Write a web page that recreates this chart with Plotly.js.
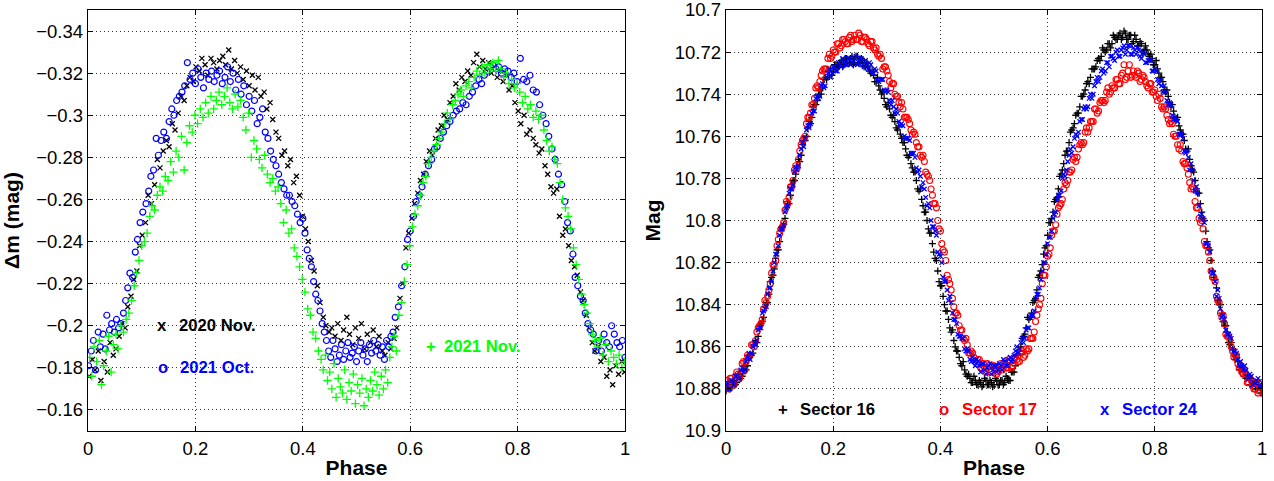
<!DOCTYPE html>
<html>
<head>
<meta charset="utf-8">
<script src="https://cdn.plot.ly/plotly-3.0.1.min.js"></script>
<style>html,body{margin:0;padding:0;background:#fff;}#chart{width:1274px;height:481px;}</style>
</head>
<body>
<div id="chart"></div>
<script>
// ---------- Left panel: ground-based differential photometry ----------
const NOV2020_PHASE = [0.002,0.008,0.013,0.019,0.024,0.030,0.036,0.041,0.047,0.052,0.058,0.063,0.069,0.074,0.080,0.085,0.091,0.096,0.101,0.107,0.112,0.118,0.124,0.129,0.134,0.140,0.146,0.151,0.157,0.162,0.168,0.173,0.179,0.184,0.190,0.196,0.201,0.207,0.212,0.218,0.223,0.229,0.234,0.240,0.245,0.251,0.256,0.262,0.267,0.273,0.278,0.284,0.289,0.295,0.300,0.306,0.311,0.317,0.322,0.328,0.333,0.339,0.344,0.350,0.355,0.361,0.366,0.372,0.377,0.383,0.388,0.394,0.399,0.405,0.410,0.416,0.421,0.427,0.432,0.438,0.443,0.449,0.454,0.460,0.465,0.471,0.476,0.482,0.487,0.493,0.498,0.504,0.509,0.515,0.520,0.526,0.531,0.537,0.542,0.548,0.553,0.559,0.564,0.570,0.575,0.581,0.586,0.592,0.597,0.603,0.608,0.614,0.619,0.625,0.630,0.636,0.641,0.647,0.652,0.658,0.663,0.669,0.674,0.680,0.685,0.691,0.696,0.702,0.707,0.713,0.718,0.724,0.729,0.735,0.740,0.746,0.751,0.757,0.762,0.768,0.773,0.779,0.784,0.790,0.795,0.801,0.806,0.812,0.817,0.823,0.829,0.834,0.840,0.845,0.851,0.856,0.862,0.867,0.873,0.878,0.884,0.889,0.895,0.900,0.906,0.911,0.917,0.922,0.928,0.933,0.939,0.944,0.950,0.955,0.961,0.966,0.972,0.977,0.983,0.988,0.994,0.999];
const NOV2020_DM = [-0.176,-0.184,-0.179,-0.188,-0.174,-0.183,-0.178,-0.192,-0.186,-0.189,-0.195,-0.201,-0.199,-0.209,-0.214,-0.222,-0.226,-0.238,-0.243,-0.249,-0.262,-0.258,-0.267,-0.279,-0.275,-0.283,-0.288,-0.285,-0.296,-0.293,-0.301,-0.309,-0.307,-0.314,-0.318,-0.316,-0.323,-0.321,-0.327,-0.324,-0.319,-0.327,-0.325,-0.322,-0.326,-0.328,-0.324,-0.331,-0.322,-0.326,-0.320,-0.323,-0.317,-0.321,-0.314,-0.319,-0.312,-0.318,-0.309,-0.311,-0.303,-0.306,-0.298,-0.292,-0.289,-0.281,-0.283,-0.276,-0.279,-0.268,-0.271,-0.262,-0.252,-0.246,-0.240,-0.231,-0.226,-0.219,-0.211,-0.204,-0.200,-0.197,-0.199,-0.195,-0.201,-0.193,-0.198,-0.204,-0.196,-0.191,-0.199,-0.194,-0.201,-0.189,-0.196,-0.192,-0.198,-0.190,-0.195,-0.188,-0.186,-0.192,-0.189,-0.194,-0.199,-0.213,-0.220,-0.237,-0.244,-0.251,-0.258,-0.263,-0.269,-0.272,-0.278,-0.283,-0.281,-0.289,-0.293,-0.295,-0.300,-0.298,-0.306,-0.309,-0.315,-0.312,-0.318,-0.316,-0.321,-0.319,-0.325,-0.329,-0.323,-0.326,-0.322,-0.325,-0.320,-0.323,-0.318,-0.321,-0.316,-0.319,-0.312,-0.314,-0.306,-0.302,-0.296,-0.300,-0.291,-0.293,-0.289,-0.286,-0.282,-0.284,-0.276,-0.272,-0.266,-0.263,-0.265,-0.252,-0.243,-0.246,-0.238,-0.231,-0.228,-0.224,-0.216,-0.212,-0.205,-0.199,-0.192,-0.188,-0.190,-0.183,-0.185,-0.176,-0.179,-0.172,-0.181,-0.177,-0.183,-0.178];

const OCT2021_PHASE = [0.001,0.006,0.010,0.014,0.019,0.023,0.028,0.032,0.035,0.040,0.044,0.049,0.053,0.057,0.061,0.066,0.070,0.074,0.078,0.083,0.088,0.092,0.097,0.102,0.108,0.113,0.117,0.122,0.127,0.131,0.136,0.141,0.146,0.151,0.156,0.160,0.165,0.170,0.175,0.180,0.185,0.190,0.195,0.200,0.205,0.210,0.215,0.220,0.225,0.230,0.235,0.240,0.245,0.250,0.255,0.260,0.265,0.270,0.275,0.280,0.285,0.290,0.295,0.300,0.305,0.310,0.315,0.320,0.325,0.330,0.335,0.340,0.345,0.350,0.355,0.360,0.365,0.370,0.375,0.380,0.385,0.390,0.395,0.400,0.404,0.408,0.412,0.416,0.420,0.424,0.428,0.432,0.436,0.440,0.444,0.448,0.452,0.456,0.460,0.464,0.468,0.472,0.476,0.480,0.484,0.488,0.492,0.496,0.500,0.504,0.508,0.512,0.516,0.520,0.524,0.528,0.532,0.536,0.540,0.544,0.548,0.552,0.556,0.560,0.564,0.568,0.572,0.578,0.584,0.590,0.595,0.600,0.606,0.611,0.617,0.622,0.628,0.634,0.640,0.645,0.650,0.656,0.662,0.668,0.674,0.680,0.686,0.692,0.698,0.704,0.710,0.716,0.722,0.728,0.733,0.738,0.744,0.749,0.754,0.760,0.765,0.770,0.776,0.782,0.788,0.793,0.799,0.805,0.811,0.817,0.823,0.829,0.835,0.841,0.847,0.853,0.858,0.864,0.870,0.876,0.882,0.888,0.893,0.898,0.903,0.907,0.912,0.917,0.922,0.926,0.931,0.936,0.941,0.946,0.951,0.956,0.961,0.966,0.971,0.975,0.980,0.985,0.990,0.995,1.000];
const OCT2021_DM = [-0.181,-0.188,-0.193,-0.179,-0.197,-0.190,-0.196,-0.189,-0.205,-0.198,-0.201,-0.197,-0.203,-0.199,-0.201,-0.206,-0.212,-0.218,-0.225,-0.223,-0.235,-0.241,-0.249,-0.254,-0.258,-0.264,-0.271,-0.274,-0.289,-0.281,-0.288,-0.292,-0.289,-0.297,-0.303,-0.300,-0.307,-0.309,-0.311,-0.314,-0.325,-0.317,-0.320,-0.315,-0.322,-0.318,-0.313,-0.320,-0.317,-0.321,-0.316,-0.319,-0.321,-0.315,-0.318,-0.323,-0.316,-0.320,-0.312,-0.317,-0.310,-0.314,-0.305,-0.309,-0.302,-0.307,-0.296,-0.299,-0.303,-0.292,-0.289,-0.283,-0.279,-0.276,-0.272,-0.268,-0.265,-0.262,-0.262,-0.259,-0.257,-0.253,-0.249,-0.251,-0.244,-0.236,-0.232,-0.228,-0.221,-0.215,-0.212,-0.207,-0.201,-0.197,-0.193,-0.188,-0.185,-0.193,-0.189,-0.183,-0.186,-0.191,-0.184,-0.188,-0.192,-0.185,-0.187,-0.190,-0.183,-0.188,-0.192,-0.186,-0.189,-0.183,-0.191,-0.187,-0.193,-0.188,-0.191,-0.186,-0.190,-0.184,-0.193,-0.190,-0.195,-0.197,-0.204,-0.209,-0.219,-0.228,-0.241,-0.245,-0.252,-0.259,-0.262,-0.266,-0.272,-0.276,-0.279,-0.284,-0.285,-0.289,-0.292,-0.295,-0.297,-0.300,-0.302,-0.303,-0.306,-0.305,-0.309,-0.311,-0.314,-0.317,-0.315,-0.319,-0.321,-0.323,-0.324,-0.322,-0.323,-0.320,-0.322,-0.321,-0.318,-0.320,-0.316,-0.327,-0.317,-0.316,-0.319,-0.312,-0.311,-0.305,-0.300,-0.296,-0.290,-0.284,-0.279,-0.272,-0.267,-0.259,-0.249,-0.245,-0.234,-0.223,-0.219,-0.214,-0.212,-0.206,-0.201,-0.198,-0.196,-0.188,-0.193,-0.188,-0.196,-0.192,-0.190,-0.200,-0.196,-0.192,-0.190,-0.193,-0.185];

const NOV2021_PHASE = [0.003,0.007,0.011,0.016,0.021,0.025,0.029,0.034,0.038,0.043,0.047,0.052,0.056,0.061,0.066,0.071,0.076,0.081,0.086,0.090,0.095,0.100,0.105,0.110,0.115,0.119,0.124,0.129,0.134,0.139,0.144,0.149,0.154,0.159,0.164,0.169,0.174,0.179,0.184,0.189,0.194,0.199,0.204,0.209,0.214,0.219,0.224,0.229,0.234,0.239,0.244,0.249,0.254,0.259,0.264,0.269,0.274,0.279,0.284,0.289,0.294,0.299,0.304,0.309,0.314,0.319,0.324,0.329,0.334,0.339,0.344,0.349,0.354,0.359,0.364,0.369,0.374,0.379,0.384,0.389,0.394,0.399,0.404,0.409,0.414,0.419,0.424,0.429,0.434,0.438,0.442,0.446,0.450,0.454,0.458,0.462,0.466,0.470,0.474,0.478,0.482,0.486,0.490,0.494,0.498,0.502,0.506,0.510,0.514,0.518,0.522,0.526,0.530,0.534,0.538,0.542,0.546,0.550,0.554,0.558,0.562,0.566,0.570,0.574,0.579,0.584,0.589,0.594,0.599,0.604,0.609,0.614,0.619,0.624,0.629,0.634,0.639,0.644,0.649,0.654,0.659,0.664,0.669,0.674,0.679,0.684,0.689,0.694,0.699,0.704,0.709,0.714,0.719,0.724,0.729,0.734,0.739,0.744,0.749,0.754,0.759,0.764,0.769,0.774,0.779,0.784,0.789,0.794,0.799,0.804,0.809,0.814,0.819,0.824,0.829,0.834,0.839,0.844,0.849,0.854,0.859,0.864,0.869,0.874,0.879,0.884,0.889,0.894,0.899,0.904,0.909,0.914,0.919,0.924,0.929,0.934,0.939,0.944,0.949,0.954,0.959,0.964,0.969,0.974,0.979,0.984,0.989,0.994,0.999];
const NOV2021_DM = [-0.185,-0.176,-0.190,-0.183,-0.193,-0.172,-0.181,-0.188,-0.195,-0.178,-0.191,-0.196,-0.189,-0.200,-0.197,-0.203,-0.206,-0.212,-0.219,-0.225,-0.231,-0.238,-0.240,-0.244,-0.252,-0.257,-0.255,-0.262,-0.266,-0.264,-0.271,-0.269,-0.278,-0.273,-0.283,-0.280,-0.290,-0.274,-0.287,-0.295,-0.292,-0.300,-0.296,-0.303,-0.299,-0.306,-0.301,-0.309,-0.303,-0.307,-0.311,-0.305,-0.309,-0.313,-0.306,-0.303,-0.310,-0.304,-0.307,-0.299,-0.293,-0.301,-0.280,-0.288,-0.284,-0.279,-0.275,-0.281,-0.272,-0.268,-0.270,-0.264,-0.266,-0.258,-0.249,-0.255,-0.244,-0.246,-0.237,-0.233,-0.228,-0.222,-0.216,-0.208,-0.205,-0.197,-0.194,-0.188,-0.184,-0.179,-0.186,-0.174,-0.178,-0.170,-0.182,-0.166,-0.175,-0.171,-0.168,-0.179,-0.165,-0.173,-0.169,-0.177,-0.163,-0.172,-0.168,-0.175,-0.162,-0.170,-0.166,-0.174,-0.169,-0.178,-0.172,-0.167,-0.176,-0.170,-0.179,-0.173,-0.185,-0.190,-0.195,-0.188,-0.205,-0.211,-0.221,-0.229,-0.238,-0.247,-0.253,-0.257,-0.262,-0.268,-0.271,-0.277,-0.280,-0.283,-0.286,-0.289,-0.292,-0.296,-0.301,-0.298,-0.305,-0.307,-0.310,-0.312,-0.309,-0.314,-0.316,-0.313,-0.318,-0.321,-0.319,-0.323,-0.320,-0.324,-0.322,-0.325,-0.321,-0.326,-0.322,-0.318,-0.320,-0.315,-0.317,-0.313,-0.315,-0.311,-0.306,-0.309,-0.303,-0.305,-0.299,-0.302,-0.298,-0.300,-0.293,-0.288,-0.283,-0.285,-0.279,-0.277,-0.268,-0.260,-0.256,-0.252,-0.246,-0.237,-0.229,-0.222,-0.215,-0.210,-0.206,-0.201,-0.196,-0.193,-0.190,-0.194,-0.186,-0.191,-0.183,-0.188,-0.185,-0.182,-0.186,-0.180,-0.183];

// ---------- Right panel: TESS sectors (two interleaved phase grids) ----------
const TESS_PHASE = [0.000,0.005,0.010,0.015,0.020,0.025,0.030,0.035,0.040,0.045,0.050,0.055,0.060,0.065,0.070,0.075,0.080,0.085,0.090,0.095,0.100,0.105,0.110,0.115,0.120,0.125,0.130,0.135,0.140,0.145,0.150,0.155,0.160,0.165,0.170,0.175,0.180,0.185,0.190,0.195,0.200,0.205,0.210,0.215,0.220,0.225,0.230,0.235,0.240,0.245,0.250,0.255,0.260,0.265,0.270,0.275,0.280,0.285,0.290,0.295,0.300,0.305,0.310,0.315,0.320,0.325,0.330,0.335,0.340,0.345,0.350,0.355,0.360,0.365,0.370,0.375,0.380,0.385,0.390,0.395,0.400,0.405,0.410,0.415,0.420,0.425,0.430,0.435,0.440,0.445,0.450,0.455,0.460,0.465,0.470,0.475,0.480,0.485,0.490,0.495,0.500,0.505,0.510,0.515,0.520,0.525,0.530,0.535,0.540,0.545,0.550,0.555,0.560,0.565,0.570,0.575,0.580,0.585,0.590,0.595,0.600,0.605,0.610,0.615,0.620,0.625,0.630,0.635,0.640,0.645,0.650,0.655,0.660,0.665,0.670,0.675,0.680,0.685,0.690,0.695,0.700,0.705,0.710,0.715,0.720,0.725,0.730,0.735,0.740,0.745,0.750,0.755,0.760,0.765,0.770,0.775,0.780,0.785,0.790,0.795,0.800,0.805,0.810,0.815,0.820,0.825,0.830,0.835,0.840,0.845,0.850,0.855,0.860,0.865,0.870,0.875,0.880,0.885,0.890,0.895,0.900,0.905,0.910,0.915,0.920,0.925,0.930,0.935,0.940,0.945,0.950,0.955,0.960,0.965,0.970,0.975,0.980,0.985,0.990,0.995,1.000];
const TESS_PHASE_B = [0.0025,0.0075,0.0125,0.0175,0.0225,0.0275,0.0325,0.0375,0.0425,0.0475,0.0525,0.0575,0.0625,0.0675,0.0725,0.0775,0.0825,0.0875,0.0925,0.0975,0.1025,0.1075,0.1125,0.1175,0.1225,0.1275,0.1325,0.1375,0.1425,0.1475,0.1525,0.1575,0.1625,0.1675,0.1725,0.1775,0.1825,0.1875,0.1925,0.1975,0.2025,0.2075,0.2125,0.2175,0.2225,0.2275,0.2325,0.2375,0.2425,0.2475,0.2525,0.2575,0.2625,0.2675,0.2725,0.2775,0.2825,0.2875,0.2925,0.2975,0.3025,0.3075,0.3125,0.3175,0.3225,0.3275,0.3325,0.3375,0.3425,0.3475,0.3525,0.3575,0.3625,0.3675,0.3725,0.3775,0.3825,0.3875,0.3925,0.3975,0.4025,0.4075,0.4125,0.4175,0.4225,0.4275,0.4325,0.4375,0.4425,0.4475,0.4525,0.4575,0.4625,0.4675,0.4725,0.4775,0.4825,0.4875,0.4925,0.4975,0.5025,0.5075,0.5125,0.5175,0.5225,0.5275,0.5325,0.5375,0.5425,0.5475,0.5525,0.5575,0.5625,0.5675,0.5725,0.5775,0.5825,0.5875,0.5925,0.5975,0.6025,0.6075,0.6125,0.6175,0.6225,0.6275,0.6325,0.6375,0.6425,0.6475,0.6525,0.6575,0.6625,0.6675,0.6725,0.6775,0.6825,0.6875,0.6925,0.6975,0.7025,0.7075,0.7125,0.7175,0.7225,0.7275,0.7325,0.7375,0.7425,0.7475,0.7525,0.7575,0.7625,0.7675,0.7725,0.7775,0.7825,0.7875,0.7925,0.7975,0.8025,0.8075,0.8125,0.8175,0.8225,0.8275,0.8325,0.8375,0.8425,0.8475,0.8525,0.8575,0.8625,0.8675,0.8725,0.8775,0.8825,0.8875,0.8925,0.8975,0.9025,0.9075,0.9125,0.9175,0.9225,0.9275,0.9325,0.9375,0.9425,0.9475,0.9525,0.9575,0.9625,0.9675,0.9725,0.9775,0.9825,0.9875,0.9925,0.9975];

const SECTOR16_MAG = [10.881,10.878,10.879,10.876,10.877,10.873,10.874,10.869,10.869,10.864,10.863,10.857,10.855,10.849,10.846,10.839,10.835,10.827,10.823,10.814,10.810,10.803,10.799,10.791,10.788,10.781,10.778,10.771,10.769,10.762,10.760,10.753,10.751,10.745,10.743,10.738,10.737,10.732,10.732,10.728,10.729,10.726,10.727,10.724,10.726,10.723,10.725,10.722,10.725,10.722,10.725,10.724,10.727,10.727,10.730,10.731,10.734,10.736,10.740,10.742,10.746,10.747,10.751,10.753,10.757,10.759,10.763,10.766,10.770,10.773,10.777,10.781,10.786,10.790,10.796,10.800,10.806,10.811,10.818,10.824,10.831,10.836,10.843,10.847,10.853,10.857,10.862,10.865,10.869,10.871,10.874,10.875,10.877,10.876,10.878,10.877,10.878,10.876,10.878,10.877,10.878,10.876,10.878,10.876,10.877,10.875,10.876,10.872,10.869,10.864,10.860,10.855,10.851,10.847,10.844,10.838,10.833,10.826,10.821,10.813,10.807,10.801,10.796,10.790,10.785,10.778,10.773,10.767,10.763,10.757,10.754,10.749,10.746,10.741,10.738,10.734,10.732,10.728,10.727,10.723,10.722,10.719,10.719,10.716,10.716,10.713,10.714,10.711,10.713,10.711,10.714,10.712,10.715,10.714,10.717,10.716,10.719,10.719,10.722,10.723,10.726,10.728,10.732,10.734,10.739,10.741,10.746,10.748,10.752,10.755,10.759,10.762,10.767,10.771,10.776,10.781,10.787,10.792,10.799,10.805,10.813,10.819,10.827,10.832,10.840,10.844,10.850,10.853,10.859,10.861,10.866,10.867,10.871,10.871,10.875,10.875,10.878,10.877,10.880,10.879,10.882];
const SECTOR16_MAG_B = [10.878,10.880,10.877,10.878,10.873,10.875,10.871,10.871,10.865,10.864,10.859,10.858,10.850,10.848,10.841,10.839,10.829,10.826,10.818,10.814,10.804,10.802,10.794,10.792,10.783,10.781,10.774,10.772,10.764,10.762,10.756,10.754,10.746,10.745,10.740,10.740,10.733,10.733,10.729,10.731,10.726,10.727,10.725,10.727,10.723,10.725,10.723,10.726,10.722,10.725,10.723,10.727,10.725,10.729,10.729,10.734,10.732,10.738,10.739,10.745,10.744,10.750,10.750,10.756,10.755,10.761,10.763,10.769,10.769,10.775,10.777,10.785,10.785,10.793,10.796,10.804,10.806,10.815,10.819,10.829,10.831,10.840,10.843,10.851,10.852,10.860,10.862,10.868,10.867,10.873,10.873,10.877,10.874,10.878,10.876,10.879,10.875,10.878,10.876,10.879,10.875,10.878,10.876,10.878,10.874,10.876,10.872,10.872,10.864,10.862,10.856,10.854,10.846,10.846,10.839,10.837,10.827,10.824,10.816,10.812,10.801,10.799,10.791,10.789,10.779,10.776,10.769,10.767,10.758,10.756,10.750,10.749,10.741,10.740,10.735,10.735,10.728,10.728,10.724,10.724,10.718,10.720,10.716,10.718,10.712,10.714,10.712,10.714,10.710,10.714,10.712,10.716,10.712,10.717,10.715,10.720,10.717,10.721,10.721,10.726,10.724,10.730,10.732,10.738,10.738,10.744,10.745,10.751,10.751,10.757,10.759,10.766,10.766,10.774,10.777,10.785,10.787,10.796,10.800,10.810,10.814,10.824,10.828,10.838,10.840,10.848,10.850,10.858,10.858,10.864,10.865,10.871,10.869,10.874,10.874,10.878,10.876,10.880,10.878,10.882];

const SECTOR17_MAG = [10.876,10.880,10.875,10.878,10.872,10.875,10.868,10.871,10.864,10.864,10.859,10.857,10.851,10.849,10.842,10.839,10.833,10.825,10.821,10.812,10.806,10.803,10.795,10.792,10.784,10.781,10.774,10.771,10.764,10.761,10.754,10.751,10.745,10.742,10.736,10.734,10.729,10.728,10.723,10.723,10.719,10.720,10.716,10.717,10.714,10.716,10.713,10.715,10.712,10.714,10.712,10.715,10.713,10.716,10.715,10.718,10.718,10.722,10.723,10.727,10.729,10.734,10.735,10.740,10.741,10.746,10.747,10.751,10.752,10.757,10.758,10.763,10.765,10.770,10.772,10.778,10.781,10.788,10.792,10.800,10.805,10.814,10.819,10.828,10.833,10.841,10.844,10.850,10.852,10.857,10.859,10.863,10.863,10.867,10.866,10.870,10.868,10.872,10.869,10.872,10.869,10.873,10.869,10.871,10.868,10.870,10.867,10.869,10.865,10.867,10.863,10.865,10.861,10.861,10.856,10.853,10.845,10.840,10.830,10.826,10.817,10.813,10.805,10.802,10.794,10.792,10.785,10.783,10.777,10.776,10.770,10.770,10.764,10.764,10.758,10.758,10.753,10.753,10.747,10.748,10.743,10.744,10.739,10.740,10.736,10.737,10.733,10.735,10.730,10.733,10.729,10.732,10.729,10.732,10.730,10.733,10.732,10.736,10.735,10.739,10.738,10.743,10.742,10.747,10.747,10.752,10.753,10.759,10.760,10.766,10.767,10.773,10.775,10.782,10.784,10.791,10.794,10.801,10.804,10.812,10.815,10.824,10.827,10.836,10.839,10.846,10.849,10.855,10.857,10.862,10.864,10.868,10.869,10.873,10.873,10.877,10.876,10.880,10.877,10.881,10.877];
const SECTOR17_MAG_B = [10.879,10.875,10.878,10.874,10.873,10.873,10.867,10.867,10.865,10.859,10.860,10.853,10.850,10.847,10.838,10.836,10.830,10.821,10.819,10.809,10.804,10.801,10.791,10.789,10.784,10.776,10.775,10.767,10.762,10.760,10.751,10.749,10.745,10.737,10.737,10.731,10.728,10.728,10.721,10.722,10.720,10.716,10.718,10.714,10.715,10.716,10.712,10.714,10.714,10.711,10.715,10.713,10.714,10.717,10.715,10.719,10.721,10.721,10.728,10.727,10.731,10.737,10.735,10.741,10.744,10.744,10.751,10.751,10.754,10.759,10.759,10.765,10.769,10.769,10.777,10.779,10.785,10.792,10.794,10.804,10.811,10.815,10.826,10.830,10.837,10.844,10.845,10.852,10.856,10.856,10.863,10.862,10.865,10.868,10.866,10.870,10.870,10.868,10.872,10.869,10.870,10.872,10.868,10.870,10.870,10.866,10.870,10.866,10.866,10.867,10.862,10.864,10.862,10.856,10.856,10.848,10.842,10.837,10.826,10.822,10.816,10.807,10.805,10.797,10.793,10.790,10.782,10.781,10.777,10.771,10.772,10.766,10.763,10.763,10.756,10.756,10.753,10.747,10.749,10.744,10.743,10.743,10.737,10.739,10.737,10.733,10.735,10.731,10.726,10.732,10.726,10.731,10.731,10.729,10.734,10.731,10.734,10.737,10.735,10.739,10.741,10.740,10.746,10.746,10.750,10.754,10.754,10.760,10.764,10.764,10.772,10.773,10.778,10.785,10.785,10.794,10.799,10.800,10.810,10.812,10.819,10.827,10.829,10.838,10.844,10.845,10.854,10.855,10.860,10.865,10.864,10.870,10.872,10.871,10.877,10.875,10.877,10.880,10.882,10.879];

const SECTOR24_MAG = [10.878,10.880,10.876,10.878,10.874,10.875,10.870,10.871,10.865,10.866,10.860,10.859,10.852,10.851,10.843,10.841,10.832,10.829,10.820,10.816,10.807,10.804,10.796,10.793,10.785,10.783,10.775,10.774,10.766,10.765,10.757,10.756,10.749,10.748,10.741,10.741,10.735,10.736,10.730,10.732,10.727,10.729,10.725,10.727,10.724,10.726,10.723,10.725,10.723,10.726,10.723,10.726,10.724,10.728,10.726,10.730,10.729,10.734,10.733,10.738,10.738,10.743,10.743,10.749,10.749,10.755,10.755,10.761,10.761,10.768,10.768,10.775,10.776,10.784,10.785,10.793,10.794,10.803,10.805,10.815,10.817,10.827,10.829,10.838,10.839,10.847,10.849,10.855,10.856,10.861,10.861,10.866,10.865,10.869,10.867,10.872,10.868,10.873,10.869,10.873,10.869,10.872,10.868,10.871,10.867,10.869,10.865,10.866,10.862,10.863,10.858,10.858,10.852,10.851,10.845,10.843,10.835,10.832,10.824,10.820,10.811,10.808,10.799,10.796,10.788,10.786,10.778,10.776,10.769,10.768,10.761,10.760,10.753,10.752,10.746,10.746,10.740,10.740,10.734,10.734,10.729,10.730,10.725,10.727,10.722,10.724,10.719,10.722,10.718,10.721,10.717,10.721,10.718,10.721,10.719,10.723,10.721,10.725,10.724,10.729,10.728,10.733,10.733,10.739,10.739,10.745,10.745,10.752,10.752,10.759,10.759,10.767,10.767,10.776,10.776,10.786,10.787,10.798,10.799,10.811,10.812,10.824,10.825,10.836,10.837,10.846,10.847,10.854,10.855,10.861,10.862,10.866,10.867,10.871,10.871,10.875,10.874,10.877,10.876,10.879,10.877];
const SECTOR24_MAG_B = [10.877,10.880,10.876,10.874,10.875,10.871,10.872,10.867,10.863,10.863,10.858,10.857,10.851,10.844,10.842,10.835,10.832,10.824,10.816,10.812,10.804,10.802,10.794,10.787,10.785,10.777,10.776,10.769,10.763,10.761,10.755,10.754,10.748,10.742,10.742,10.736,10.737,10.732,10.728,10.730,10.727,10.729,10.726,10.723,10.726,10.723,10.726,10.724,10.722,10.725,10.723,10.727,10.726,10.725,10.729,10.728,10.733,10.733,10.733,10.739,10.739,10.745,10.746,10.747,10.753,10.754,10.760,10.761,10.762,10.768,10.770,10.777,10.779,10.782,10.789,10.792,10.800,10.803,10.807,10.816,10.820,10.829,10.833,10.836,10.844,10.847,10.854,10.855,10.856,10.862,10.862,10.867,10.867,10.866,10.869,10.868,10.871,10.870,10.868,10.871,10.869,10.871,10.869,10.866,10.869,10.866,10.867,10.864,10.860,10.861,10.856,10.856,10.851,10.846,10.845,10.837,10.835,10.828,10.820,10.816,10.808,10.805,10.797,10.790,10.788,10.780,10.779,10.772,10.766,10.765,10.759,10.758,10.752,10.747,10.747,10.742,10.742,10.736,10.732,10.732,10.728,10.729,10.725,10.722,10.723,10.720,10.722,10.719,10.717,10.719,10.717,10.721,10.719,10.718,10.722,10.720,10.725,10.724,10.724,10.729,10.729,10.735,10.736,10.736,10.743,10.744,10.750,10.751,10.753,10.759,10.761,10.768,10.770,10.773,10.781,10.784,10.793,10.797,10.801,10.811,10.815,10.825,10.829,10.833,10.842,10.845,10.852,10.854,10.856,10.862,10.863,10.869,10.869,10.869,10.874,10.873,10.878,10.877,10.875,10.879];

// ---------- Tick labels ----------
const PHASE_TICKS = [0, 0.2, 0.4, 0.6, 0.8, 1];
const PHASE_TICKTEXT = ['0', '0.2', '0.4', '0.6', '0.8', '1'];
const DM_TICKS = [-0.34, -0.32, -0.30, -0.28, -0.26, -0.24, -0.22, -0.20, -0.18, -0.16];
const DM_TICKTEXT = ['\u22120.34', '\u22120.32', '\u22120.3', '\u22120.28', '\u22120.26', '\u22120.24', '\u22120.22', '\u22120.2', '\u22120.18', '\u22120.16'];
const MAG_TICKS = [10.70, 10.72, 10.74, 10.76, 10.78, 10.80, 10.82, 10.84, 10.86, 10.88, 10.90];
const MAG_TICKTEXT = ['10.7', '10.72', '10.74', '10.76', '10.78', '10.8', '10.82', '10.84', '10.86', '10.88', '10.9'];

const FONT = 'Liberation Sans, Arial, Helvetica, sans-serif';

const traces = [
  {x: NOV2020_PHASE, y: NOV2020_DM, xaxis: 'x', yaxis: 'y', mode: 'markers', name: '2020 Nov.',
   marker: {symbol: 'x-thin-open', size: 5, color: '#000000', line: {color: '#000000', width: 1.3}}},
  {x: OCT2021_PHASE, y: OCT2021_DM, xaxis: 'x', yaxis: 'y', mode: 'markers', name: '2021 Oct.',
   marker: {symbol: 'circle-open', size: 6, color: '#0000ff', line: {color: '#0000ff', width: 1.2}}},
  {x: NOV2021_PHASE, y: NOV2021_DM, xaxis: 'x', yaxis: 'y', mode: 'markers', name: '2021 Nov.',
   marker: {symbol: 'cross-thin-open', size: 6, color: '#00ff00', line: {color: '#00ff00', width: 1.3}}},
  {x: TESS_PHASE.concat(TESS_PHASE_B), y: SECTOR16_MAG.concat(SECTOR16_MAG_B), xaxis: 'x2', yaxis: 'y2', mode: 'markers', name: 'Sector 16',
   marker: {symbol: 'cross-thin-open', size: 5, color: '#000000', line: {color: '#000000', width: 1.3}}},
  {x: TESS_PHASE.concat(TESS_PHASE_B), y: SECTOR17_MAG.concat(SECTOR17_MAG_B), xaxis: 'x2', yaxis: 'y2', mode: 'markers', name: 'Sector 17',
   marker: {symbol: 'circle-open', size: 6, color: '#ff0000', line: {color: '#ff0000', width: 1.1}}},
  {x: TESS_PHASE.concat(TESS_PHASE_B), y: SECTOR24_MAG.concat(SECTOR24_MAG_B), xaxis: 'x2', yaxis: 'y2', mode: 'markers', name: 'Sector 24',
   marker: {symbol: 'x-thin-open', size: 4.5, color: '#0000ff', line: {color: '#0000ff', width: 1.3}}}
];

function axisBase() {
  return {
    showline: true, linecolor: '#000', linewidth: 1.3, mirror: 'ticks',
    ticks: 'inside', ticklen: 5, tickwidth: 1, tickcolor: '#000',
    showgrid: true, gridcolor: '#333', griddash: '1px,3px', gridwidth: 1,
    zeroline: false, tickfont: {family: FONT, size: 18.5, color: '#000'},
    ticklabeloverflow: 'allow', fixedrange: true
  };
}

const xTitle = {text: 'Phase', font: {family: FONT, size: 21, color: '#000', weight: 'bold'}, standoff: 2};

const layout = {
  width: 1274, height: 481,
  margin: {l: 0, r: 0, t: 10, b: 50},
  paper_bgcolor: '#fff', plot_bgcolor: '#fff',
  showlegend: false,
  font: {family: FONT, color: '#000'},
  xaxis: Object.assign(axisBase(), {domain: [0.0691, 0.4906], anchor: 'y', range: [0, 1],
    tickvals: PHASE_TICKS, ticktext: PHASE_TICKTEXT, title: xTitle}),
  yaxis: Object.assign(axisBase(), {domain: [0, 1], anchor: 'x', range: [-0.15, -0.35],
    tickvals: DM_TICKS, ticktext: DM_TICKTEXT,
    title: {text: '\u0394m (mag)', font: {family: FONT, size: 21, color: '#000', weight: 'bold'}, standoff: 12}}),
  xaxis2: Object.assign(axisBase(), {domain: [0.5699, 0.9906], anchor: 'y2', range: [0, 1],
    tickvals: PHASE_TICKS, ticktext: PHASE_TICKTEXT, title: xTitle}),
  yaxis2: Object.assign(axisBase(), {domain: [0, 1], anchor: 'x2', range: [10.9, 10.7],
    tickvals: MAG_TICKS, ticktext: MAG_TICKTEXT,
    title: {text: 'Mag', font: {family: FONT, size: 21, color: '#000', weight: 'bold'}, standoff: 8}}),
  annotations: []
};

function legendEntry(xref, yref, gx, tx, y, glyph, label, color) {
  const f = {family: FONT, size: 16.7, color: color, weight: 'bold'};
  layout.annotations.push({xref: xref, yref: yref, x: gx, y: y, text: glyph, showarrow: false,
    xanchor: 'center', yanchor: 'middle', font: f});
  layout.annotations.push({xref: xref, yref: yref, x: tx, y: y, text: label, showarrow: false,
    xanchor: 'left', yanchor: 'middle', font: f});
}
legendEntry('x', 'y', 0.138, 0.166, -0.200, 'x', '2020 Nov.', '#000000');
legendEntry('x', 'y', 0.140, 0.168, -0.180, 'o', '2021 Oct.', '#0000ff');
legendEntry('x', 'y', 0.639, 0.659, -0.190, '+', '2021 Nov.', '#00ff00');
legendEntry('x2', 'y2', 0.106, 0.134, 10.890, '+', 'Sector 16', '#000000');
legendEntry('x2', 'y2', 0.407, 0.437, 10.890, 'o', 'Sector 17', '#ff0000');
legendEntry('x2', 'y2', 0.707, 0.735, 10.890, 'x', 'Sector 24', '#0000ff');

Plotly.newPlot('chart', traces, layout, {displayModeBar: false, staticPlot: true});
</script>
</body>
</html>
